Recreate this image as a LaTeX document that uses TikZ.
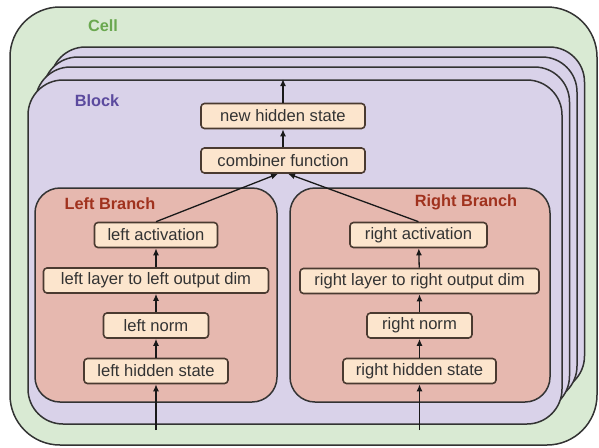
\documentclass[tikz,border=0pt]{standalone}
\usepackage{fontspec}
\setmainfont{Liberation Sans}
\usetikzlibrary{arrows.meta}
\definecolor{cellfill}{HTML}{D9EAD3}
\definecolor{blockfill}{HTML}{D9D2E9}
\definecolor{branchfill}{HTML}{E6B8AF}
\definecolor{boxfill}{HTML}{FCE5CD}
\definecolor{celltext}{HTML}{6AA84F}
\definecolor{blocktext}{HTML}{5B4A9E}
\definecolor{branchtext}{HTML}{A0321E}
\definecolor{linecol}{HTML}{333333}
\definecolor{boxline}{HTML}{4A3A30}
\tikzset{
  container/.style={draw=linecol, line width=1.5pt},
  opbox/.style={draw=boxline, fill=boxfill, line width=1.6pt, rounded corners=3.5pt,
    minimum height=25pt, inner sep=0pt, font=\fontsize{16.6}{18}\selectfont, text=black!80},
  title/.style={font=\fontsize{16.3}{18}\selectfont\bfseries, inner sep=0pt},
  flow/.style={draw=black!90, line width=1.3pt, -{Latex[length=7pt,width=6pt]}}
}
\begin{document}
\begin{tikzpicture}[x=1pt,y=-1pt]
\useasboundingbox (0,0) rectangle (599,447);
% cell
\draw[container, fill=cellfill, rounded corners=50pt] (10,7) rectangle (597,445);
\node[title, text=celltext] (celllabel) at (103,26) {Cell};
% stacked blocks (back to front)
\draw[container, fill=blockfill, rounded corners=35pt] (50.5,47) rectangle (584.5,391);
\draw[container, fill=blockfill, rounded corners=35pt] (43,57) rectangle (577,401);
\draw[container, fill=blockfill, rounded corners=35pt] (35.5,67) rectangle (569.5,411);
\draw[container, fill=blockfill, rounded corners=35pt] (28,80) rectangle (562,424);
\node[title, text=blocktext] (blocklabel) at (97,101) {Block};
% branches
\draw[container, fill=branchfill, rounded corners=25pt] (35,188) rectangle (277,402);
\draw[container, fill=branchfill, rounded corners=25pt] (290,188) rectangle (550,402);
\node[title, text=branchtext] (leftlabel) at (110,204) {Left Branch};
\node[title, text=branchtext] (rightlabel) at (466,202) {Right Branch};
% boxes
\node[opbox, minimum width=164pt] (nhs) at (283,116) {new hidden state};
\node[opbox, minimum width=164pt] (comb) at (283,160.5) {combiner function};
\node[opbox, minimum width=123pt] (lact) at (156,235) {left activation};
\node[opbox, minimum width=225pt] (llay) at (156,280.5) {left layer to left output dim};
\node[opbox, minimum width=105pt] (lnorm) at (156,325.5) {left norm};
\node[opbox, minimum width=144pt] (lhs) at (156,371) {left hidden state};
\node[opbox, minimum width=137pt] (ract) at (418.5,235) {right activation};
\node[opbox, minimum width=239pt] (rlay) at (419.5,281) {right layer to right output dim};
\node[opbox, minimum width=105pt] (rnorm) at (419.5,325.5) {right norm};
\node[opbox, minimum width=153pt] (rhs) at (419.5,371) {right hidden state};
% free ends
\coordinate (inL) at (156,430);
\coordinate (inR) at (419.5,430);
\coordinate (out) at (283,79);
% arrows
\draw[flow] (inL) -- (lhs.south);
\draw[flow] (lhs) -- (lnorm);
\draw[flow] (lnorm) -- (llay);
\draw[flow] (llay) -- (lact);
\draw[flow] (inR) -- (rhs.south);
\draw[flow] (rhs) -- (rnorm);
\draw[flow] (rnorm) -- (rlay);
\draw[flow] (rlay) -- (ract);
\draw[flow] (lact.north) -- ([xshift=-5pt]comb.south);
\draw[flow] (ract.north) -- ([xshift=5pt]comb.south);
\draw[flow] (comb) -- (nhs);
\draw[flow] (nhs.north) -- (out);
\end{tikzpicture}
\end{document}
